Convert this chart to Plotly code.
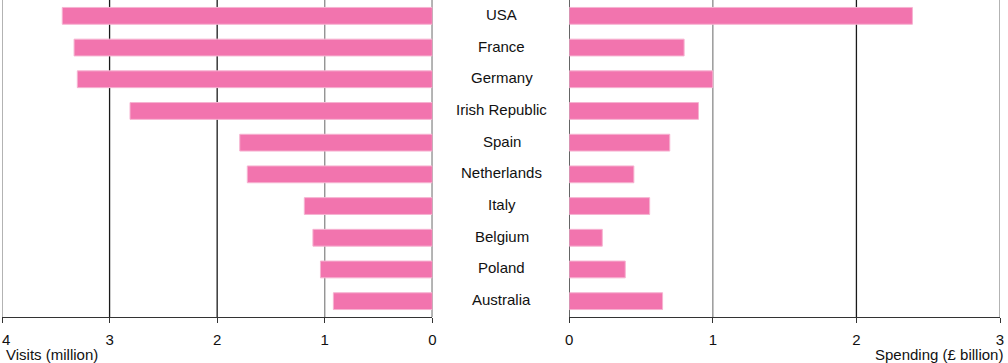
import plotly.graph_objects as go

countries = ["USA", "France", "Germany", "Irish Republic", "Spain",
             "Netherlands", "Italy", "Belgium", "Poland", "Australia"]
visits_million = [3.44, 3.33, 3.30, 2.81, 1.79, 1.72, 1.19, 1.11, 1.04, 0.92]
spending_billion = [2.39, 0.80, 1.00, 0.90, 0.70, 0.45, 0.56, 0.23, 0.39, 0.65]
visit_ticks = [0, 1, 2, 3, 4]
visit_tick_labels = ["0", "1", "2", "3", "&nbsp;&nbsp;4"]
spend_ticks = [0, 1, 2, 3]
spend_tick_labels = ["0", "1", "2", "3"]

PINK = "#F274AE"
EDGE = "#F6B3D1"
FONT = "Liberation Sans, Arial, Helvetica, sans-serif"
FS = 15

fig = go.Figure()
fig.add_trace(go.Bar(y=countries, x=visits_million, orientation="h",
                     marker=dict(color=PINK, line=dict(color=EDGE, width=1)),
                     width=0.53, xaxis="x", yaxis="y", showlegend=False))
fig.add_trace(go.Bar(y=countries, x=spending_billion, orientation="h",
                     marker=dict(color=PINK, line=dict(color=EDGE, width=1)),
                     width=0.53, xaxis="x2", yaxis="y2", showlegend=False))

left_cols = {4: "#8a8a8a", 3: "#1a1a1a", 2: "#1a1a1a", 1: "#8a8a8a", 0: "#1a1a1a"}
right_cols = {0: "#1a1a1a", 1: "#8a8a8a", 2: "#1a1a1a", 3: "#8a8a8a"}
shapes = []
for v in visit_ticks:
    shapes.append(dict(type="line", xref="x", yref="y domain", x0=v, x1=v, y0=0, y1=1,
                       line=dict(color=left_cols[v], width=1.3), layer="below"))
for v in spend_ticks:
    shapes.append(dict(type="line", xref="x2", yref="y2 domain", x0=v, x1=v, y0=0, y1=1,
                       line=dict(color=right_cols[v], width=1.3), layer="below"))

annotations = []
for c in countries:
    annotations.append(dict(x=0.5007, xref="paper", y=c, yref="y", yshift=1.5, text=c,
                            showarrow=False, xanchor="center", yanchor="middle",
                            font=dict(family=FONT, size=FS, color="#111111")))
annotations.append(dict(x=0.002, xref="paper", y=-0.118, yref="paper", text="Visits (million)",
                        showarrow=False, xanchor="left", yanchor="middle",
                        font=dict(family=FONT, size=FS, color="#111111")))
annotations.append(dict(x=1.005, xref="paper", y=-0.118, yref="paper", text="Spending (£ billion)",
                        showarrow=False, xanchor="right", yanchor="middle",
                        font=dict(family=FONT, size=FS, color="#111111")))

axis_common = dict(showgrid=False, zeroline=False, showline=True, linecolor="#333333",
                   linewidth=1.3, ticks="outside", ticklen=5, tickcolor="#333333",
                   tickwidth=1.3, tickfont=dict(family=FONT, size=FS, color="#111111"),
                   fixedrange=True, automargin=False, ticklabeloverflow="allow",
                   ticklabelstandoff=4)

fig.update_layout(
    width=1008, height=363,
    margin=dict(l=2, r=8, t=0, b=46),
    paper_bgcolor="white", plot_bgcolor="white",
    bargap=0.47,
    xaxis=dict(domain=[0, 0.4312], range=[4, 0], tickvals=visit_ticks,
               ticktext=visit_tick_labels, **axis_common),
    xaxis2=dict(domain=[0.5684, 1], range=[0, 3], tickvals=spend_ticks,
                ticktext=spend_tick_labels, anchor="y2", **axis_common),
    yaxis=dict(domain=[0, 1], range=[9.5, -0.5], showticklabels=False, showgrid=False,
               zeroline=False, ticks="", automargin=False,
               categoryorder="array", categoryarray=countries),
    yaxis2=dict(domain=[0, 1], range=[9.5, -0.5], showticklabels=False, showgrid=False,
                zeroline=False, ticks="", anchor="x2", automargin=False,
                categoryorder="array", categoryarray=countries),
    shapes=shapes,
    annotations=annotations,
    font=dict(family=FONT, size=FS, color="#111111"),
)

fig.write_html("out.html", config={"displayModeBar": False},
               post_script="document.body.style.margin='0';document.body.style.overflow='hidden';")
